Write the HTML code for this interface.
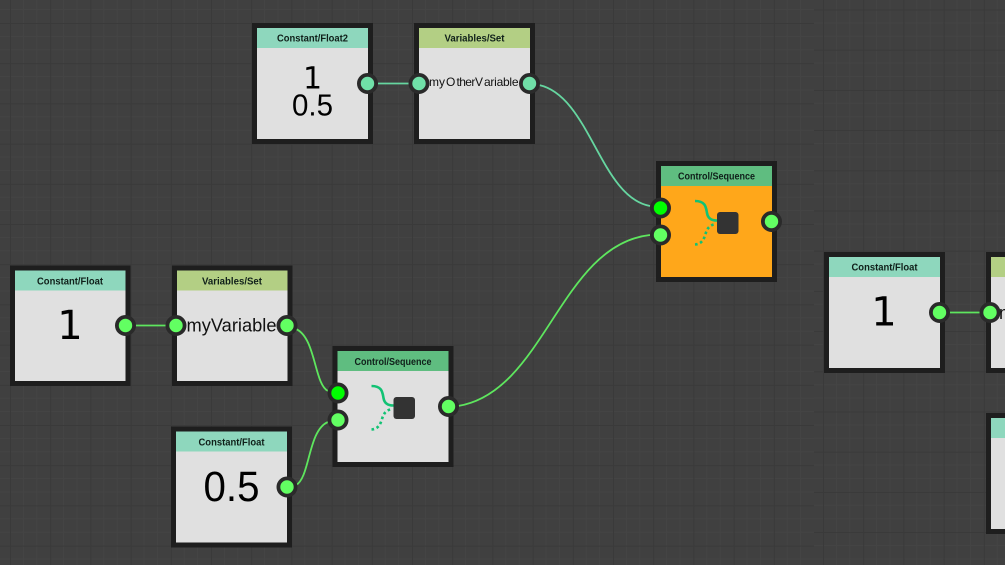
<!DOCTYPE html>
<html><head><meta charset="utf-8">
<style>
html,body{margin:0;padding:0;background:#404040;width:1005px;height:565px;overflow:hidden}
svg{display:block;position:absolute;left:0;top:0}
.t{font:bold 10px "Liberation Sans",sans-serif;fill:#10201a;text-anchor:middle}
.v{font-family:"DejaVu Sans","Liberation Sans",sans-serif;fill:#000;text-anchor:middle}
.z{font-family:"Liberation Sans",sans-serif;fill:#000;text-anchor:middle}
.s{font-family:"Liberation Sans",sans-serif;fill:#111}
</style></head><body>
<svg width="1005" height="565" viewBox="0 0 1005 565" xmlns="http://www.w3.org/2000/svg">
<defs>
<pattern id="g1" patternUnits="userSpaceOnUse" x="10" y="23" width="40.2" height="40.2">
<rect width="40.2" height="40.2" fill="#404040"/>
<path d="M13.4 0V40.2M26.8 0V40.2M0 13.4H40.2M0 26.8H40.2" stroke="#444444" stroke-width="1" fill="none"/>
<path d="M0 0V40.2M0 0H40.2" stroke="#3a3a3a" stroke-width="2" fill="none"/>
</pattern>
<pattern id="g2" patternUnits="userSpaceOnUse" x="823" y="9.5" width="40.2" height="40.2">
<rect width="40.2" height="40.2" fill="#404040"/>
<path d="M13.4 0V40.2M26.8 0V40.2M0 13.4H40.2M0 26.8H40.2" stroke="#444444" stroke-width="1" fill="none"/>
<path d="M0 0V40.2M0 0H40.2" stroke="#3a3a3a" stroke-width="2" fill="none"/>
</pattern>
</defs>
<rect width="814" height="565" fill="url(#g1)"/>
<rect x="814" width="191" height="565" fill="url(#g2)"/>

<!-- wires -->
<g fill="none" stroke-width="1.800">
<path d="M378 83.5H409" stroke="#66d6a0"/>
<path d="M539 85C590 96 600 197 650 206" stroke="#66d6a0"/>
<path d="M135 325.5H166" stroke="#5ee65e"/>
<path d="M296 329C316 338 314 384 328 391" stroke="#5ee65e"/>
<path d="M296 485C310 478 308 430 328 422" stroke="#5ee65e"/>
<path d="M458 406C545 392 560 245 650 235" stroke="#5ee65e"/>
<path d="M949 312.5H980" stroke="#5ee65e"/>
</g>

<!-- Float2 -->
<g transform="translate(252 23)">
<rect x="2.5" y="2.5" width="116" height="116" fill="#e0e0e0" stroke="#1e1e1e" stroke-width="5"/>
<rect x="5" y="5" width="111" height="20" fill="#8ed7bd"/>
<text class="t" x="60.5" y="18.5" textLength="71" lengthAdjust="spacingAndGlyphs">Constant/Float2</text>
<text class="v" x="60.5" y="65.5" font-size="30">1</text>
<text class="z" x="60.5" y="92.5" font-size="31" textLength="41" lengthAdjust="spacingAndGlyphs">0.5</text>
</g>
<!-- Set other -->
<g transform="translate(414 23)">
<rect x="2.5" y="2.5" width="116" height="116" fill="#e0e0e0" stroke="#1e1e1e" stroke-width="5"/>
<rect x="5" y="5" width="111" height="20" fill="#b3cf84"/>
<text class="t" x="60.5" y="18.5" textLength="60" lengthAdjust="spacingAndGlyphs">Variables/Set</text>
</g>
<text class="s" font-size="12" y="86"><tspan x="429">my</tspan><tspan x="446">O</tspan><tspan x="456.5" letter-spacing="-.6">ther</tspan><tspan x="475">V</tspan><tspan x="484" letter-spacing="-.25">ariable</tspan></text>

<!-- Seq orange -->
<g transform="translate(656 161)">
<rect x="2.5" y="2.5" width="116" height="116" fill="#ffa71a" stroke="#1e1e1e" stroke-width="5"/>
<rect x="5" y="5" width="111" height="20" fill="#5fbd80"/>
<text class="t" x="60.5" y="18.5" textLength="77" lengthAdjust="spacingAndGlyphs">Control/Sequence</text>
<path d="M39 40C50 40 50 47 51 52C52 58 56 59.500 61 59.500" fill="none" stroke="#12c274" stroke-width="2.600"/>
<path d="M39 83.500C46 83 48 78 49.500 73C51 68 53 64 60 63" fill="none" stroke="#12c274" stroke-width="2.600" stroke-dasharray="2.600 2.700"/>
<rect x="61" y="51" width="21.500" height="22" rx="3" fill="#333"/>
</g>
<!-- Float 1 -->
<g transform="translate(10 265.500)">
<rect x="2.500" y="2.500" width="115.500" height="115.500" fill="#e0e0e0" stroke="#1e1e1e" stroke-width="5"/>
<rect x="5" y="5" width="110.500" height="20" fill="#8ed7bd"/>
<text class="t" x="60" y="19" textLength="66" lengthAdjust="spacingAndGlyphs">Constant/Float</text>
<text class="v" x="60" y="73.500" font-size="40">1</text>
</g>
<!-- Set -->
<g transform="translate(172 265.500)">
<rect x="2.500" y="2.500" width="115.500" height="115.500" fill="#e0e0e0" stroke="#1e1e1e" stroke-width="5"/>
<rect x="5" y="5" width="110.500" height="20" fill="#b3cf84"/>
<text class="t" x="60" y="19" textLength="60" lengthAdjust="spacingAndGlyphs">Variables/Set</text>
</g>
<text class="s" x="186.500" y="331.500" font-size="18" textLength="90" lengthAdjust="spacingAndGlyphs">myVariable</text>
<!-- Float .5 -->
<g transform="translate(171 426.500)">
<rect x="2.500" y="2.500" width="116" height="116" fill="#e0e0e0" stroke="#1e1e1e" stroke-width="5"/>
<rect x="5" y="5" width="111" height="20" fill="#8ed7bd"/>
<text class="t" x="60.500" y="19" textLength="66" lengthAdjust="spacingAndGlyphs">Constant/Float</text>
<text class="z" x="60.500" y="74.500" font-size="43" textLength="56" lengthAdjust="spacingAndGlyphs">0.5</text>
</g>
<!-- Seq -->
<g transform="translate(332.500 346)">
<rect x="2.500" y="2.500" width="116" height="116" fill="#e0e0e0" stroke="#1e1e1e" stroke-width="5"/>
<rect x="5" y="5" width="111" height="20" fill="#5fbd80"/>
<text class="t" x="60.500" y="19" textLength="77" lengthAdjust="spacingAndGlyphs">Control/Sequence</text>
<path d="M39 40C50 40 50 47 51 52C52 58 56 59.500 61 59.500" fill="none" stroke="#12c274" stroke-width="2.600"/>
<path d="M39 83.500C46 83 48 78 49.500 73C51 68 53 64 60 63" fill="none" stroke="#12c274" stroke-width="2.600" stroke-dasharray="2.600 2.700"/>
<rect x="61" y="51" width="21.500" height="22" rx="3" fill="#333"/>
</g>
<!-- Right Float -->
<g transform="translate(824 252)">
<rect x="2.500" y="2.500" width="116" height="116" fill="#e0e0e0" stroke="#1e1e1e" stroke-width="5"/>
<rect x="5" y="5" width="111" height="20" fill="#8ed7bd"/>
<text class="t" x="60.500" y="18.500" textLength="66" lengthAdjust="spacingAndGlyphs">Constant/Float</text>
<text class="v" x="60" y="73.500" font-size="40">1</text>
</g>
<!-- Right clipped -->
<g transform="translate(986 252)">
<rect x="2.500" y="2.500" width="116" height="116" fill="#e0e0e0" stroke="#1e1e1e" stroke-width="5"/>
<rect x="5" y="5" width="111" height="20" fill="#b3cf84"/>
</g>
<text class="s" x="999" y="319" font-size="18">m</text>
<g transform="translate(986 413)">
<rect x="2.500" y="2.500" width="116" height="116" fill="#e0e0e0" stroke="#1e1e1e" stroke-width="5"/>
<rect x="5" y="5" width="111" height="20" fill="#8ed7bd"/>
</g>

<!-- ports -->
<g stroke="#2a2a2a" stroke-width="3.800">
<circle cx="367.500" cy="83.500" r="8.600" fill="#70e0a8"/>
<circle cx="419" cy="83.500" r="8.600" fill="#70e0a8"/>
<circle cx="529.500" cy="83.500" r="8.600" fill="#70e0a8"/>
<circle cx="660.500" cy="208" r="8.600" fill="#00ff00"/>
<circle cx="660.500" cy="235" r="8.600" fill="#62ff62"/>
<circle cx="771.500" cy="221.500" r="8.600" fill="#62ff62"/>
<circle cx="125.500" cy="325.500" r="8.600" fill="#62ff62"/>
<circle cx="176" cy="325.500" r="8.600" fill="#62ff62"/>
<circle cx="287" cy="325.500" r="8.600" fill="#62ff62"/>
<circle cx="338" cy="393" r="8.600" fill="#00ff00"/>
<circle cx="338" cy="420" r="8.600" fill="#62ff62"/>
<circle cx="448.500" cy="406.500" r="8.600" fill="#62ff62"/>
<circle cx="287" cy="487" r="8.600" fill="#62ff62"/>
<circle cx="939.500" cy="312.500" r="8.600" fill="#62ff62"/>
<circle cx="990" cy="312.500" r="8.600" fill="#62ff62"/>
</g>
</svg>
</body></html>
